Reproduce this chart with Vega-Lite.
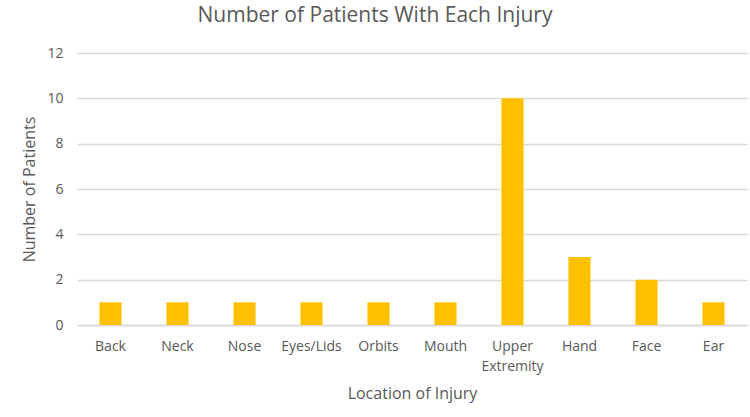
{
  "$schema": "https://vega.github.io/schema/vega-lite/v6.json",
  "width": 670,
  "height": 272,
  "autosize": {"type": "none"},
  "padding": {"left": 77, "top": 53, "right": 3, "bottom": 92},
  "background": "white",
  "title": {
    "text": "Number of Patients With Each Injury",
    "fontSize": 21,
    "font": "Open Sans",
    "fontWeight": "normal",
    "color": "#595959",
    "anchor": "middle",
    "dx": -37,
    "offset": 20
  },
  "data": {
    "values": [
      {"location": "Back", "patients": 1},
      {"location": "Neck", "patients": 1},
      {"location": "Nose", "patients": 1},
      {"location": "Eyes/Lids", "patients": 1},
      {"location": "Orbits", "patients": 1},
      {"location": "Mouth", "patients": 1},
      {"location": "Upper Extremity", "patients": 10},
      {"location": "Hand", "patients": 3},
      {"location": "Face", "patients": 2},
      {"location": "Ear", "patients": 1}
    ]
  },
  "mark": {"type": "bar", "color": "#FFC000"},
  "encoding": {
    "x": {
      "field": "location",
      "type": "nominal",
      "sort": null,
      "scale": {"paddingInner": 0.67, "paddingOuter": 0.335},
      "axis": {
        "title": "Location of Injury",
        "titleFont": "Open Sans",
        "titleFontSize": 16,
        "titleFontWeight": "normal",
        "titleColor": "#595959",
        "titlePadding": 12,
        "labelFont": "Open Sans",
        "labelFontSize": 14,
        "labelColor": "#595959",
        "labelAngle": 0,
        "labelPadding": 14,
        "labelExpr": "split(datum.value, ' ')",
        "labelLineHeight": 20,
        "ticks": false,
        "domainColor": "#d9d9d9",
        "domainWidth": 1.3
      }
    },
    "y": {
      "field": "patients",
      "type": "quantitative",
      "scale": {"domain": [0, 12]},
      "axis": {
        "title": "Number of Patients",
        "titleFont": "Open Sans",
        "titleFontSize": 16,
        "titleFontWeight": "normal",
        "titleColor": "#595959",
        "titlePadding": 9,
        "labelFont": "Open Sans",
        "labelFontSize": 14,
        "labelColor": "#595959",
        "labelPadding": 14,
        "values": [0, 2, 4, 6, 8, 10, 12],
        "ticks": false,
        "domain": false,
        "gridColor": "#d9d9d9",
        "gridWidth": 1.3
      }
    }
  },
  "config": {"view": {"stroke": null}}
}
